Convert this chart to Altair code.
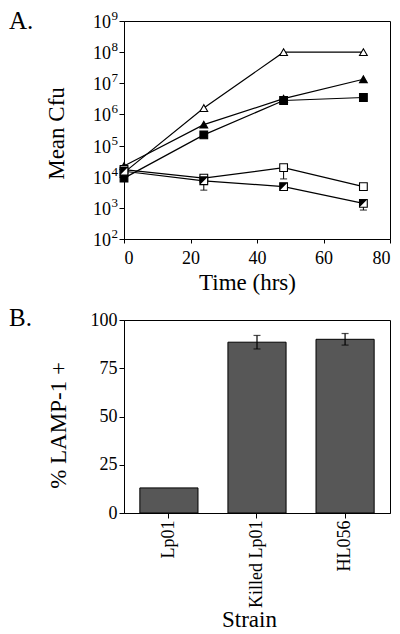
import altair as alt
import pandas as pd

FONT = "Liberation Serif"

# ---------------- Panel A data ----------------
times = [0, 24, 48, 72]
series_names = ["open triangle", "filled triangle", "filled square", "open square", "half-filled square"]
open_triangle = [1.35e4, 1.6e6, 1.0e8, 1.0e8]
filled_triangle = [2.2e4, 4.7e5, 3.2e6, 1.35e7]
filled_square = [9.0e3, 2.2e5, 2.8e6, 3.5e6]
open_square = [1.7e4, 9.0e3, 1.95e4, 4.8e3]
half_square = [1.5e4, 7.4e3, 4.8e3, 1.4e3]
marker_shapes = ["triangle-up", "triangle-up", "square", "square", "square"]
marker_fills = ["white", "black", "black", "white", "white"]

err_series = ["half-filled square", "open square", "half-filled square"]
err_times = [24, 48, 72]
err_low = [3.7e3, 8.5e3, 8.5e2]

y_tick_values = [1e2, 1e3, 1e4, 1e5, 1e6, 1e7, 1e8, 1e9]
y_tick_base = ["10", "10", "10", "10", "10", "10", "10", "10"]
y_tick_exp = ["2", "3", "4", "5", "6", "7", "8", "9"]
x_tick_values = [0, 20, 40, 60, 80]

# ---------------- Panel B data ----------------
strains = ["Lp01", "Killed Lp01", "HL056"]
lamp_pct = [13, 88.5, 90]
lamp_err = [0, 3.5, 3]
pct_ticks = [0, 25, 50, 75, 100]

# ---------------- Panel A ----------------
series_vals = [open_triangle, filled_triangle, filled_square, open_square, half_square]
rows = [
    {"series": s, "time": t, "cfu": v}
    for s, vals in zip(series_names, series_vals)
    for t, v in zip(times, vals)
]
dfA = pd.DataFrame(rows)
lookup = {(r["series"], r["time"]): r["cfu"] for r in rows}
dfErr = pd.DataFrame({
    "series": err_series,
    "time": err_times,
    "cfu": [lookup[(s, t)] for s, t in zip(err_series, err_times)],
    "low": err_low,
})
dfTicks = pd.DataFrame({"cfu": y_tick_values, "base": y_tick_base, "exp": y_tick_exp})

H1 = 218
W = 266

x_enc = alt.X(
    "time:Q",
    scale=alt.Scale(domain=[0, 80], nice=False, zero=False),
    axis=alt.Axis(values=x_tick_values, title="Time (hrs)", titleX=W / 2 - 10, titleY=50,
                  titleBaseline="alphabetic", tickSize=4, labelPadding=6, grid=False,
                  labelFontSize=18),
)
y_scale = alt.Scale(type="log", domain=[1e2, 1e9], nice=False)
y_enc = alt.Y(
    "cfu:Q",
    scale=y_scale,
    axis=alt.Axis(values=y_tick_values, labels=False, tickSize=5, grid=False,
                  title="Mean Cfu", titleX=-61, titleY=112, titleBaseline="alphabetic"),
)

baseA = alt.Chart(dfA)
lines = baseA.mark_line(color="black", strokeWidth=1.2).encode(x=x_enc, y=y_enc, detail="series:N")
err_rule = alt.Chart(dfErr).mark_rule(color="black", strokeWidth=1).encode(
    x=x_enc, y=y_enc, y2="low:Q")
err_cap = alt.Chart(dfErr).mark_tick(orient="horizontal", size=7, thickness=1.2, color="black").encode(
    x=x_enc, y=alt.Y("low:Q", scale=y_scale))
points = baseA.mark_point(filled=True, stroke="black", strokeWidth=1.1, size=60, opacity=1).encode(
    x=x_enc, y=y_enc,
    shape=alt.Shape("series:N", scale=alt.Scale(domain=series_names, range=marker_shapes), legend=None),
    fill=alt.Fill("series:N", scale=alt.Scale(domain=series_names, range=marker_fills), legend=None),
)
half = baseA.transform_filter(alt.datum.series == "half-filled square").mark_point(
    shape="M-1,-1L1,-1L-1,1Z", filled=True, fill="black", size=60, strokeWidth=0, opacity=1
).encode(x=x_enc, y=y_enc)
tick_base = alt.Chart(dfTicks).mark_text(align="right", baseline="middle", font=FONT, fontSize=18, dy=2).encode(
    x=alt.value(-13), y=y_enc, text="base:N")
tick_exp = alt.Chart(dfTicks).mark_text(align="right", baseline="middle", font=FONT, fontSize=13, dy=-5).encode(
    x=alt.value(-6), y=y_enc, text="exp:N")
letterA = alt.Chart(pd.DataFrame({"t": ["A."]})).mark_text(
    align="left", baseline="alphabetic", font=FONT, fontSize=25).encode(
    x=alt.value(-115), y=alt.value(8), text="t:N")

panelA = alt.layer(lines, err_rule, err_cap, points, half, tick_base, tick_exp, letterA).properties(
    width=W, height=H1)

# ---------------- Panel B ----------------
H2 = 193
dfB = pd.DataFrame({"strain": strains, "pct": lamp_pct, "err": lamp_err})

xb = alt.X(
    "strain:N", sort=strains,
    scale=alt.Scale(paddingInner=0.34, paddingOuter=0.18),
    axis=alt.Axis(labelAngle=-90, labelFontSize=18, tickSize=5, labelPadding=2,
                  title="Strain", titleX=W / 2 - 8, titleY=113, titleBaseline="alphabetic"),
)
yb = alt.Y(
    "pct:Q", scale=alt.Scale(domain=[0, 100], nice=False),
    axis=alt.Axis(values=pct_ticks, tickSize=5, labelPadding=2, labelFontSize=18, grid=False,
                  title="% LAMP-1 +", titleX=-59, titleY=105, titleBaseline="alphabetic"),
)
baseB = alt.Chart(dfB)
bars = baseB.mark_bar(color="#575757", stroke="black", strokeWidth=1).encode(x=xb, y=yb)
errB = baseB.transform_filter(alt.datum.err > 0).transform_calculate(
    lo="datum.pct - datum.err", hi="datum.pct + datum.err")
errB_rule = errB.mark_rule(color="black", strokeWidth=1.2).encode(
    x=xb, y=alt.Y("lo:Q", scale=alt.Scale(domain=[0, 100], nice=False)), y2="hi:Q")
errB_lo = errB.mark_tick(orient="horizontal", size=7, thickness=1.2, color="black").encode(
    x=xb, y=alt.Y("lo:Q", scale=alt.Scale(domain=[0, 100], nice=False)))
errB_hi = errB.mark_tick(orient="horizontal", size=7, thickness=1.2, color="black").encode(
    x=xb, y=alt.Y("hi:Q", scale=alt.Scale(domain=[0, 100], nice=False)))
letterB = alt.Chart(pd.DataFrame({"t": ["B."]})).mark_text(
    align="left", baseline="alphabetic", font=FONT, fontSize=25).encode(
    x=alt.value(-115), y=alt.value(6), text="t:N")

panelB = alt.layer(bars, errB_rule, errB_lo, errB_hi, letterB).properties(width=W, height=H2)

chart = alt.vconcat(panelA, panelB, spacing=10).properties(
    padding=0, background="white"
).configure_view(
    stroke="black", strokeWidth=1
).configure_axis(
    domainColor="black", tickColor="black", labelColor="black", titleColor="black",
    labelFont=FONT, titleFont=FONT, labelFontSize=18, titleFontSize=23,
    titleFontWeight="normal", domainWidth=1, tickWidth=1,
)

chart.save("out.html", embed_options={"renderer": "svg", "actions": False})
